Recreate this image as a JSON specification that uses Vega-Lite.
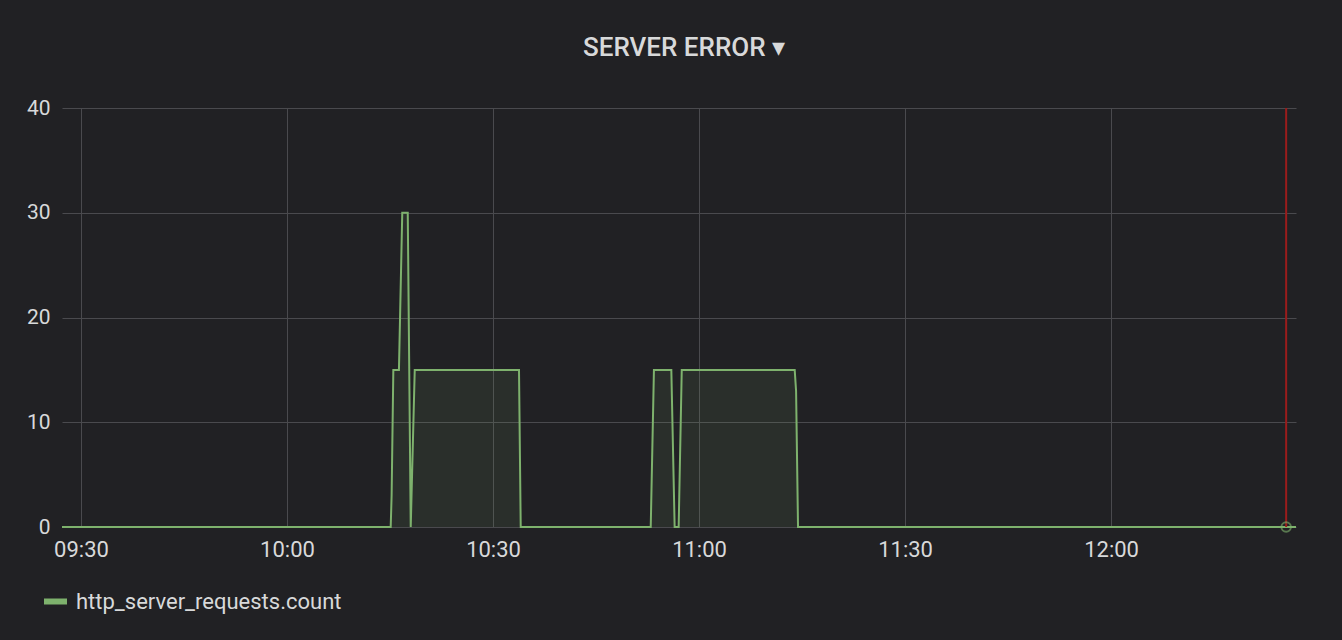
{
  "$schema": "https://vega.github.io/schema/vega-lite/v6.json",
  "width": 1234,
  "height": 419,
  "autosize": {"type": "none"},
  "padding": {"left": 62, "top": 108, "right": 46, "bottom": 113},
  "background": "#212124",
  "config": {
    "view": {"stroke": null},
    "font": "Roboto",
    "axis": {
      "gridColor": "#4a4a4e",
      "gridWidth": 1,
      "labelColor": "#d8d9da",
      "labelFontSize": 21,
      "labelFont": "Roboto",
      "domain": false,
      "ticks": false,
      "title": null
    }
  },
  "title": {
    "text": "SERVER ERROR ▾",
    "anchor": "middle",
    "color": "#d8d9da",
    "fontSize": 26,
    "fontWeight": 500,
    "font": "Roboto",
    "offset": 36,
    "dx": 5
  },
  "datasets": {
    "series": [
      {"time": "2019-03-12T09:27:14", "value": 0, "series": "http_server_requests.count"},
      {"time": "2019-03-12T10:15:06", "value": 0, "series": "http_server_requests.count"},
      {"time": "2019-03-12T10:15:14", "value": 3, "series": "http_server_requests.count"},
      {"time": "2019-03-12T10:15:29", "value": 15, "series": "http_server_requests.count"},
      {"time": "2019-03-12T10:16:18", "value": 15, "series": "http_server_requests.count"},
      {"time": "2019-03-12T10:16:47", "value": 30, "series": "http_server_requests.count"},
      {"time": "2019-03-12T10:17:35", "value": 30, "series": "http_server_requests.count"},
      {"time": "2019-03-12T10:18:01", "value": 0, "series": "http_server_requests.count"},
      {"time": "2019-03-12T10:18:36", "value": 15, "series": "http_server_requests.count"},
      {"time": "2019-03-12T10:33:47", "value": 15, "series": "http_server_requests.count"},
      {"time": "2019-03-12T10:34:02", "value": 0, "series": "http_server_requests.count"},
      {"time": "2019-03-12T10:52:58", "value": 0, "series": "http_server_requests.count"},
      {"time": "2019-03-12T10:53:26", "value": 15, "series": "http_server_requests.count"},
      {"time": "2019-03-12T10:55:58", "value": 15, "series": "http_server_requests.count"},
      {"time": "2019-03-12T10:56:27", "value": 0, "series": "http_server_requests.count"},
      {"time": "2019-03-12T10:57:02", "value": 0, "series": "http_server_requests.count"},
      {"time": "2019-03-12T10:57:29", "value": 15, "series": "http_server_requests.count"},
      {"time": "2019-03-12T11:13:56", "value": 15, "series": "http_server_requests.count"},
      {"time": "2019-03-12T11:14:08", "value": 13, "series": "http_server_requests.count"},
      {"time": "2019-03-12T11:14:25", "value": 0, "series": "http_server_requests.count"},
      {"time": "2019-03-12T12:26:56", "value": 0, "series": "http_server_requests.count"}
    ],
    "annotations": [
      {"time": "2019-03-12T12:25:30", "value": 0}
    ]
  },
  "layer": [
    {
      "data": {"name": "series"},
      "mark": {"type": "area", "color": "#7eb26d", "opacity": 0.1},
      "encoding": {
        "x": {
          "field": "time", "type": "temporal",
          "scale": {"nice": false},
          "axis": {"format": "%H:%M", "tickCount": 6, "labelPadding": 12, "labelFlush": false, "labelFontSize": 22}
        },
        "y": {
          "field": "value", "type": "quantitative",
          "scale": {"domain": [0, 40], "nice": false},
          "axis": {"values": [0, 10, 20, 30, 40], "labelPadding": 12}
        }
      }
    },
    {
      "data": {"name": "series"},
      "mark": {"type": "line", "strokeWidth": 2},
      "encoding": {
        "x": {"field": "time", "type": "temporal"},
        "y": {"field": "value", "type": "quantitative"},
        "color": {
          "field": "series", "type": "nominal",
          "scale": {"range": ["#7eb26d"]},
          "legend": {
            "orient": "none", "legendX": -21, "legendY": 479,
            "title": null,
            "symbolType": "stroke", "symbolStrokeWidth": 6, "symbolSize": 529,
            "labelFontSize": 22, "labelColor": "#d8d9da", "labelFont": "Roboto",
            "labelOffset": 6, "labelLimit": 500
          }
        }
      }
    },
    {
      "data": {"name": "annotations"},
      "mark": {"type": "rule", "color": "#9b1c1c", "strokeWidth": 2},
      "encoding": {
        "x": {"field": "time", "type": "temporal"}
      }
    },
    {
      "data": {"name": "annotations"},
      "mark": {"type": "point", "filled": false, "color": "#7eb26d", "opacity": 0.6, "size": 90, "strokeWidth": 2},
      "encoding": {
        "x": {"field": "time", "type": "temporal"},
        "y": {"field": "value", "type": "quantitative"}
      }
    }
  ]
}
